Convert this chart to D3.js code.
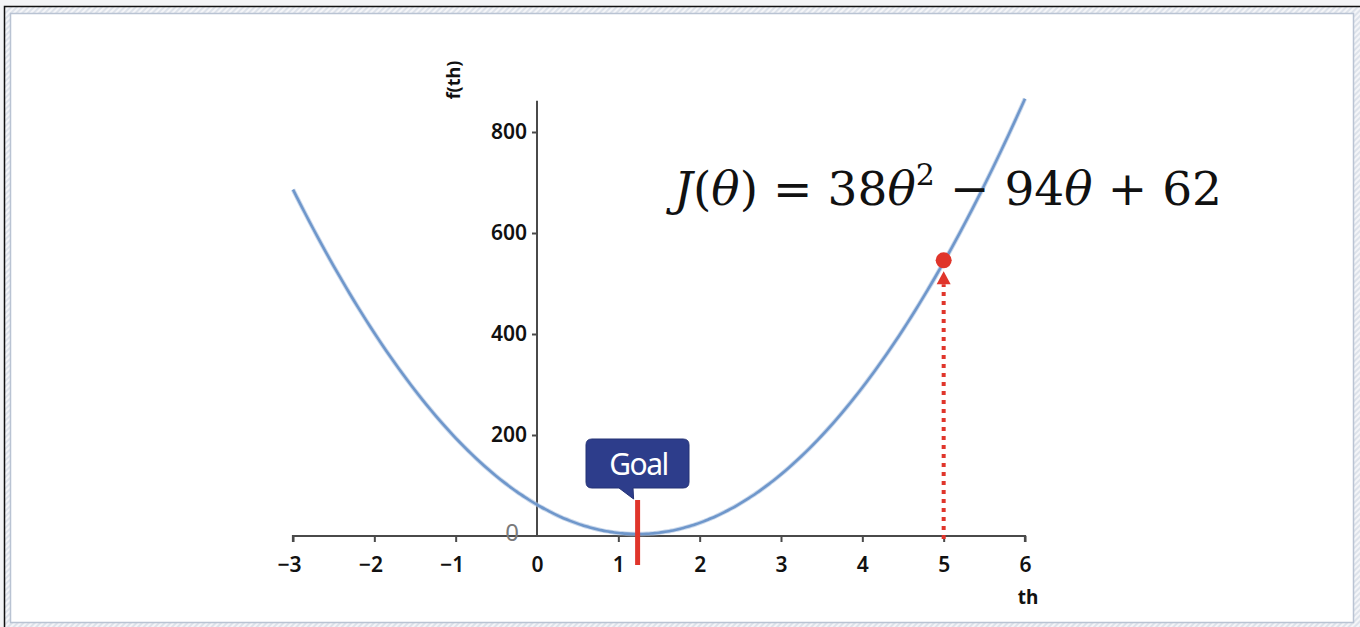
<!DOCTYPE html>
<html><head><meta charset="utf-8">
<script src="https://cdn.jsdelivr.net/npm/d3@7"></script>
<style>html,body{margin:0;padding:0;background:#fff;}svg{display:block;}</style>
</head><body>
<svg id="c" width="1360" height="627"></svg>
<script>
// Data
const coeffs = [38, -94, 62];           // J(θ) = 38θ² − 94θ + 62
const xTicks = [-3, -2, -1, 0, 1, 2, 3, 4, 5, 6];
const yTicks = [0, 200, 400, 600, 800];
const thetaSamples = d3.range(-3, 6.0001, 0.05);
const goalTheta = [1.237];
const startTheta = [5];

const J = t => coeffs[0]*t*t + coeffs[1]*t + coeffs[2];

const svg = d3.select("#c");

// frame
svg.append("rect").attr("x",0).attr("y",0).attr("width",1360).attr("height",627).attr("fill","#f3f4f6");
const pat = svg.append("defs").append("pattern").attr("id","hatch").attr("width",4).attr("height",4)
  .attr("patternUnits","userSpaceOnUse").attr("patternTransform","rotate(45)");
pat.append("rect").attr("width",4).attr("height",4).attr("fill","#f4f5f8");
pat.append("rect").attr("width",2).attr("height",4).attr("fill","#dde2ea");
svg.append("rect").attr("x",4).attr("y",6).attr("width",1360).attr("height",627).attr("fill","url(#hatch)");
svg.append("path").attr("d","M4.5,627 V6.5 H1360").attr("fill","none").attr("stroke","#111").attr("stroke-width",1.5);
svg.append("rect").attr("x",10.5).attr("y",13.5).attr("width",1343).attr("height",609)
  .attr("fill","#fff").attr("stroke","#b9c3d3").attr("stroke-width",1.5);

// scales
const x = d3.scaleLinear().domain([-3, 6]).range([293, 1025]);
const y = d3.scaleLinear().domain([0, 800]).range([536, 132]);

const axisColor = "#4a4a4a";
const labFont = "Noto Sans, Open Sans, sans-serif";
// x axis
const gx = svg.append("g").attr("transform",`translate(0,${y(0)})`)
  .call(d3.axisBottom(x).tickValues(xTicks).tickSize(6).tickPadding(15)
    .tickFormat(d => d < 0 ? "\u2212" + Math.abs(d) : d));
gx.select(".domain").attr("stroke",axisColor).attr("stroke-width",2.2).attr("d",`M${x(-3)},6V0H${x(6)}V6`);
gx.selectAll(".tick line").attr("stroke",axisColor).attr("stroke-width",2);
gx.selectAll(".tick text").attr("font-family",labFont).attr("font-size",21)
  .attr("font-weight",600).attr("fill","#111");
gx.selectAll(".tick").filter(d => d < 0).select("text").attr("dx",-4);
gx.selectAll(".tick").filter(d => d === 0).select("line").remove();

// y axis
const gy = svg.append("g").attr("transform",`translate(${x(0)},0)`)
  .call(d3.axisLeft(y).tickValues(yTicks).tickSize(5).tickPadding(5));
gy.select(".domain").attr("stroke",axisColor).attr("stroke-width",2).attr("d",`M0,${y(0)}V${y(862)}`);
gy.selectAll(".tick line").attr("stroke",axisColor).attr("stroke-width",2);
gy.selectAll(".tick text").attr("font-family",labFont).attr("font-size",21)
  .attr("font-weight",600).attr("fill","#111");
gy.selectAll(".tick").filter(d => d === 0).select("text").attr("fill","#7a7a7a").attr("font-weight",400)
  .attr("font-size",24).attr("dx",-8).attr("dy",4);
gy.selectAll(".tick").filter(d => d === 0).select("line").remove();

// axis titles
svg.append("text").attr("transform",`translate(460,${80}) rotate(-90)`).attr("text-anchor","middle")
  .attr("font-family",labFont).attr("font-size",18).attr("font-weight",700)
  .attr("fill","#111").text("f(th)");
svg.append("text").attr("x",x(6)+3).attr("y",604).attr("text-anchor","middle")
  .attr("font-family",labFont).attr("font-size",19).attr("font-weight",700)
  .attr("fill","#111").text("th");

// curve
const lineGen = d3.line().x(t => x(t)).y(t => y(J(t))).curve(d3.curveBasis);
svg.append("path").datum(thetaSamples).attr("d", lineGen)
  .attr("fill","none").attr("stroke","#a9c0e0").attr("stroke-opacity",0.6).attr("stroke-width",4.5);
svg.append("path").datum(thetaSamples).attr("d", lineGen)
  .attr("fill","none").attr("stroke","#6f97cb").attr("stroke-width",2.6);

const red = "#e0352b";
// goal marker
svg.selectAll(".goal").data(goalTheta).join("line")
  .attr("x1",d=>x(d)).attr("x2",d=>x(d)).attr("y1",500).attr("y2",565)
  .attr("stroke",red).attr("stroke-width",5);

// callout
const bx = 586, by = 439, bw = 103, bh = 49;
const gxp = x(goalTheta[0]);
svg.append("path")
  .attr("d",`M${bx+6},${by} H${bx+bw-6} Q${bx+bw},${by} ${bx+bw},${by+6} V${by+bh-6} Q${bx+bw},${by+bh} ${bx+bw-6},${by+bh}
    H${bx+47} L${gxp-4},${499} L${bx+33},${by+bh} H${bx+6} Q${bx},${by+bh} ${bx},${by+bh-6} V${by+6} Q${bx},${by} ${bx+6},${by} Z`)
  .attr("fill","#2d3d8b").attr("stroke","#243275").attr("stroke-width",1);
svg.append("text").attr("x",bx+bw/2+1).attr("y",by+36).attr("text-anchor","middle")
  .attr("font-family",labFont).attr("font-size",30).attr("letter-spacing",-1.5)
  .attr("fill","#fff").text("Goal");

// starting point: dotted arrow + dot
startTheta.forEach(t => {
  const px = x(t), py = y(J(t));
  svg.append("line").attr("x1",px).attr("x2",px).attr("y1",y(0)+3).attr("y2",py+22)
    .attr("stroke",red).attr("stroke-width",4).attr("stroke-dasharray","4,5");
  svg.append("path").attr("d",`M${px},${py+9} L${px+7},${py+22} L${px-7},${py+22} Z`).attr("fill",red);
  svg.append("circle").attr("cx",px).attr("cy",py-2).attr("r",8).attr("fill",red);
});

// formula
const f = svg.append("text").attr("x",674).attr("y",205)
  .attr("font-family","DejaVu Serif, Liberation Serif, serif").attr("font-size",47).attr("fill","#111")
  .attr("textLength",548).attr("lengthAdjust","spacing");
f.append("tspan").attr("font-style","italic").text("J");
f.append("tspan").text("(");
f.append("tspan").attr("font-style","italic").text("θ");
f.append("tspan").text(") = 38");
f.append("tspan").attr("font-style","italic").text("θ");
f.append("tspan").attr("font-size",30).attr("dy",-20).text("2");
f.append("tspan").attr("dy",20).text(" − 94");
f.append("tspan").attr("font-style","italic").text("θ");
f.append("tspan").text(" + 62");
</script>
</body></html>
